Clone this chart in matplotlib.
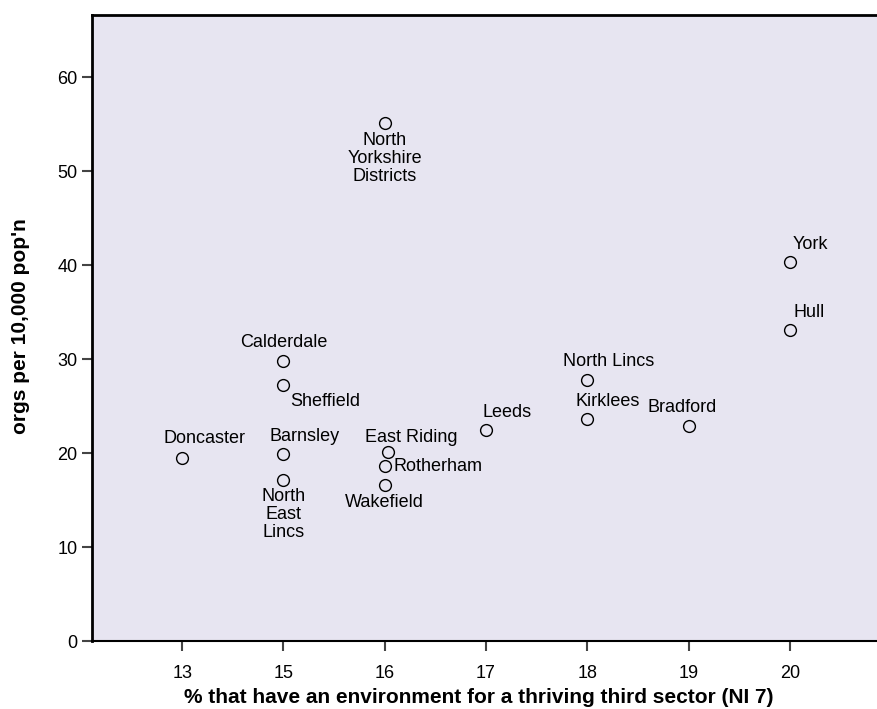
import numpy as np
import matplotlib.pyplot as plt

plt.rcParams['font.family'] = ['Liberation Sans', 'DejaVu Sans']

# data
categories = [13, 15, 16, 17, 18, 19, 20]
names = ['North\nYorkshire\nDistricts', 'York', 'Hull', 'Calderdale', 'Sheffield',
         'Doncaster', 'Barnsley', 'North\nEast\nLincs', 'East Riding', 'Rotherham',
         'Wakefield', 'Leeds', 'North Lincs', 'Kirklees', 'Bradford']
ni7 = [16, 20, 20, 15, 15, 13, 15, 15, 16.03, 16, 16, 17, 18, 18, 19]
orgs = [55.1, 40.3, 33.1, 29.8, 27.2, 19.5, 19.9, 17.1, 20.1, 18.6, 16.6, 22.4, 27.8, 23.6, 22.9]

# label placement (pixel offsets, alignment)
label_pos = {
    'North\nYorkshire\nDistricts': (0, -9, 'center', 'top'),
    'York': (21, 18, 'center', 'center'),
    'Hull': (19, 17, 'center', 'center'),
    'Calderdale': (0, 18, 'center', 'center'),
    'Sheffield': (7, -16, 'left', 'center'),
    'Doncaster': (22, 19, 'center', 'center'),
    'Barnsley': (21, 17, 'center', 'center'),
    'North\nEast\nLincs': (0, -8, 'center', 'top'),
    'East Riding': (23, 15, 'center', 'center'),
    'Rotherham': (9, 0, 'left', 'center'),
    'Wakefield': (0, -18, 'center', 'center'),
    'Leeds': (21, 18, 'center', 'center'),
    'North Lincs': (21, 18, 'center', 'center'),
    'Kirklees': (20, 18, 'center', 'center'),
    'Bradford': (-6, 18, 'center', 'center'),
}

xpos = np.interp(ni7, categories, np.arange(len(categories)))

fig = plt.figure(figsize=(8.77, 7.09), dpi=100)
ax = fig.add_axes([92/877, 68/709, 1 - 92/877, (641 - 15)/709])
ax.set_facecolor('#E7E5F1')

ax.plot(xpos, orgs, 'o', markersize=8.5, markerfacecolor='none',
        markeredgecolor='black', markeredgewidth=1.0, linestyle='none')

for name, x, y in zip(names, xpos, orgs):
    dx, dy, ha, va = label_pos[name]
    ax.annotate(name, (x, y), xytext=(dx, dy), textcoords='offset pixels',
                ha=ha, va=va, fontsize=13, linespacing=1.08)

ax.set_xlim(-0.89, 6.86)
ax.set_ylim(0, 66.6)
ax.set_xticks(np.arange(len(categories)))
ax.set_xticklabels([str(c) for c in categories])
ax.set_yticks(np.arange(0, 61, 10))

ax.spines['right'].set_visible(False)
ax.spines['top'].set_linewidth(2)
ax.spines['left'].set_linewidth(2)
ax.spines['bottom'].set_linewidth(1.5)
ax.tick_params(axis='both', labelsize=13, length=7, width=1.5, color='#444444')
ax.tick_params(axis='x', pad=10)

ax.set_xlabel('% that have an environment for a thriving third sector (NI 7)',
              fontsize=15, fontweight='bold', va='center')
ax.xaxis.set_label_coords(0.493, -0.0895)
ax.set_ylabel("orgs per 10,000 pop'n", fontsize=15, fontweight='bold', va='center')
ax.yaxis.set_label_coords(-0.0905, 0.503)

fig.savefig('out.png', dpi=100)
